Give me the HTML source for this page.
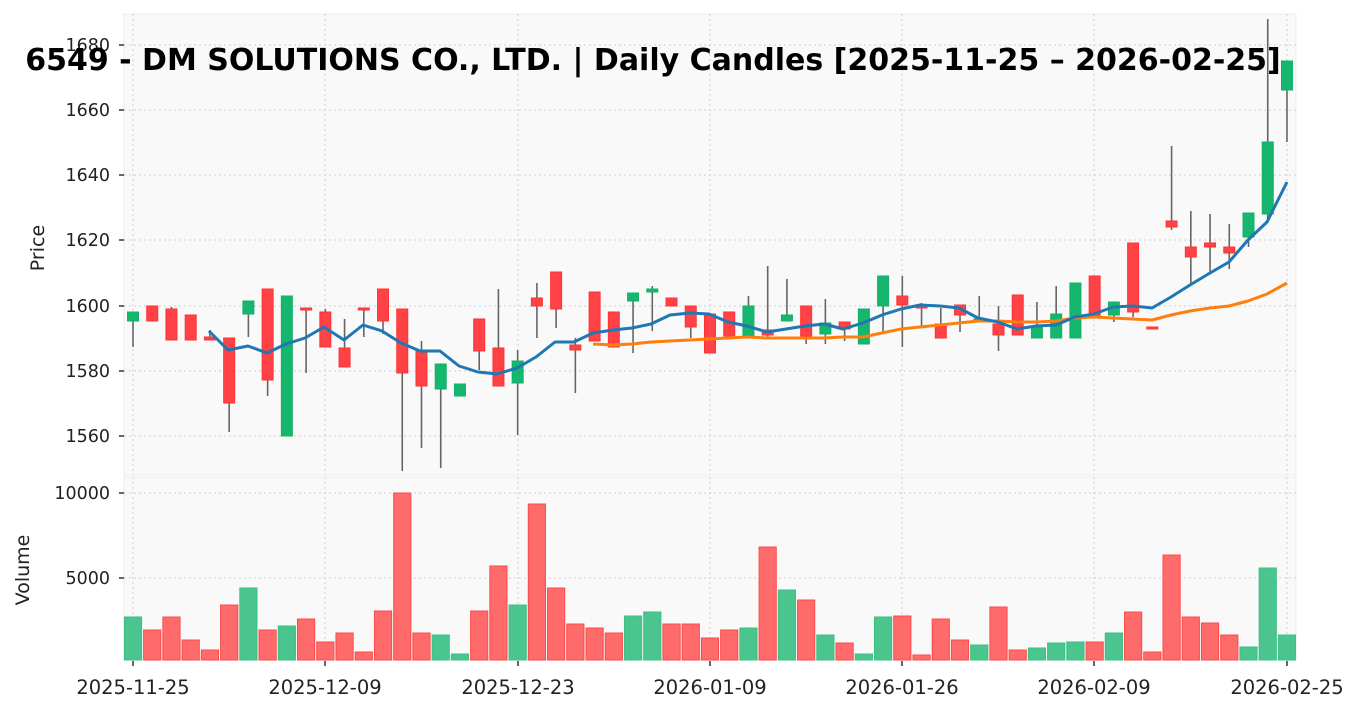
<!DOCTYPE html>
<html><head><meta charset="utf-8"><style>
html,body{margin:0;padding:0;background:#fff;}
svg{display:block;font-family:"DejaVu Sans","Liberation Sans",sans-serif;}
</style></head><body>
<svg id="s" width="1363" height="711" xmlns="http://www.w3.org/2000/svg">
<rect x="124" y="14" width="1172" height="461" fill="#f9f9f9" stroke="#ececec"/>
<rect x="124" y="477" width="1172" height="183" fill="#f9f9f9" stroke="#ececec"/>
<g id="grid" stroke="#cfcfcf" stroke-width="1" stroke-dasharray="2,3"></g>
<g id="vol"></g>
<g id="cand"></g>
<polyline id="ma2" fill="none" stroke="#ff7f0e" stroke-width="3" stroke-linejoin="round"/>
<polyline id="ma1" fill="none" stroke="#1f77b4" stroke-width="3" stroke-linejoin="round"/>
<g font-size="17.5" fill="#222" text-anchor="end" id="yl">
<text x="110" y="51">1680</text><text x="110" y="116">1660</text><text x="110" y="181">1640</text>
<text x="110" y="246">1620</text><text x="110" y="312">1600</text><text x="110" y="377">1580</text>
<text x="110" y="442">1560</text><text x="110" y="499">10000</text><text x="110" y="584">5000</text>
</g>
<g font-size="19.5" fill="#222" text-anchor="middle">
<text x="133" y="694">2025-11-25</text><text x="325" y="694">2025-12-09</text><text x="518" y="694">2025-12-23</text>
<text x="710" y="694">2026-01-09</text><text x="902" y="694">2026-01-26</text><text x="1094" y="694">2026-02-09</text>
<text x="1287" y="694">2026-02-25</text>
</g>
<text x="44" y="248" font-size="19" fill="#222" text-anchor="middle" transform="rotate(-90 44 248)">Price</text>
<text x="29" y="570" font-size="19" fill="#222" text-anchor="middle" transform="rotate(-90 29 570)">Volume</text>
<text x="653" y="70" font-size="30" font-weight="bold" fill="#000" text-anchor="middle">6549 - DM SOLUTIONS CO., LTD. | Daily Candles [2025-11-25 – 2026-02-25]</text>
</svg>
<script>
var NS="http://www.w3.org/2000/svg";
function el(p,t,a){var e=document.createElementNS(NS,t);for(var k in a)e.setAttribute(k,a[k]);p.appendChild(e);return e;}
var g=document.getElementById("grid");
[133,325,518,710,902,1094,1287].forEach(function(x){el(g,"line",{x1:x,y1:14,x2:x,y2:475});el(g,"line",{x1:x,y1:477,x2:x,y2:660});
 el(document.getElementById("s"),"line",{x1:x,y1:661,x2:x,y2:666,stroke:"#333","stroke-width":1.5});});
[45,110,175,240,306,371,436].forEach(function(y){el(g,"line",{x1:124,y1:y,x2:1296,y2:y});
 el(document.getElementById("s"),"line",{x1:119,y1:y,x2:124,y2:y,stroke:"#333","stroke-width":1.5});});
[493,578].forEach(function(y){el(g,"line",{x1:124,y1:y,x2:1296,y2:y});
 el(document.getElementById("s"),"line",{x1:119,y1:y,x2:124,y2:y,stroke:"#333","stroke-width":1.5});});
function X(i){return 133+i*19.233;}
var C=[["G",312,321,312,347],["R",306,321,306,321],["R",309,340,307,340],["R",315,340,315,340],["R",337,340,330,340],
["R",338,403,338,432],["G",301,314,301,337],["R",289,380,289,396],["G",296,436,296,436],["R",308,310,308,373],
["R",312,347,309,347],["R",348,367,319,367],["R",308,310,308,337],["R",289,321,289,334],["R",309,373,309,471],
["R",351,386,341,448],["G",364,389,364,468],["G",384,396,384,396],["R",319,351,319,370],["R",348,386,289,386],
["G",361,383,350,435],["R",298,306,283,338],["R",272,309,272,328],["R",345,350,338,393],["R",292,341,292,341],
["R",312,347,312,347],["G",293,301,293,353],["G",289,292,286,331],["R",298,306,298,306],["R",306,327,306,338],
["R",314,353,314,353],["R",312,336,312,336],["G",306,336,296,336],["R",330,335,266,337],["G",315,321,279,321],
["R",306,336,306,344],["G",323,334,299,344],["R",322,329,322,341],["G",309,344,309,344],["G",276,306,276,332],
["R",296,305,276,347],["R",306,308,303,327],["R",324,338,308,338],["R",305,315,305,332],["G",319,321,296,320],
["R",324,335,306,351],["R",295,335,295,335],["G",327,338,302,338],["G",314,338,286,338],["G",283,338,283,338],
["R",276,316,276,316],["G",302,315,302,322],["R",243,312,243,317],["R",327,329,327,329],["R",221,227,146,230],
["R",247,257,211,283],["R",243,247,214,273],["R",247,253,224,269],["G",213,237,213,247],["G",142,214,19,222],
["G",61,90,61,142]];
var V=[617,630,617,640,650,605,588,630,626,619,642,633,652,611,493,633,635,654,611,566,605,504,588,624,628,633,616,612,624,624,638,630,628,547,590,600,635,643,654,617,616,655,619,640,645,607,650,648,643,642,642,633,612,652,555,617,623,635,647,568,635];
var cg=document.getElementById("cand"),vg=document.getElementById("vol");
C.forEach(function(c,i){var x=X(i),gr=c[0]=="G";
 el(cg,"line",{x1:x,y1:c[3],x2:x,y2:c[4],stroke:"#666","stroke-width":1.6});
 el(cg,"rect",{x:x-5.5,y:c[1],width:11,height:Math.max(c[2]-c[1],1.5),fill:gr?"#16b66e":"#ff4245",stroke:gr?"#13b06a":"#ff3333","stroke-width":1});
 el(vg,"rect",{x:x-8.6,y:V[i],width:17.2,height:660-V[i],fill:gr?"#4ac58d":"#ff6b6b",stroke:gr?"#3dbf85":"#ff4a4a","stroke-width":1});
});
var m1=[[209,331],[228,350],[248,346],[267,353],[286,344],[305,338],[324,327],[344,340],[363,325],[382,331],[401,343],[420,351],[440,351],[459,366],[478,372],[497,374],[517,368],[536,357],[555,342],[574,342],[593,333],[613,330],[632,328],[651,324],[670,315],[690,313],[709,314],[728,322],[747,326],[767,332],[786,329],[805,326],[824,324],[843,329],[863,323],[882,315],[901,309],[920,305],[940,306],[959,308],[978,318],[998,322],[1017,329],[1036,326],[1056,325],[1075,317],[1094,314],[1113,307],[1133,306],[1152,308],[1171,297],[1190,285],[1210,273],[1229,262],[1248,240],[1267,222],[1287,182]];
var m2=[[593,344],[613,345],[632,344],[651,342],[670,341],[690,340],[709,339],[728,338],[747,337],[767,338],[786,338],[805,338],[824,338],[843,337],[863,337],[882,333],[901,329],[920,327],[940,325],[959,323],[978,321],[998,321],[1017,322],[1036,322],[1056,321],[1075,318],[1094,317],[1113,318],[1133,319],[1152,320],[1171,315],[1190,311],[1210,308],[1229,306],[1248,301],[1267,294],[1287,283]];
document.getElementById("ma1").setAttribute("points",m1.map(function(p){return p.join(",")}).join(" "));
document.getElementById("ma2").setAttribute("points",m2.map(function(p){return p.join(",")}).join(" "));
</script>
</body></html>
